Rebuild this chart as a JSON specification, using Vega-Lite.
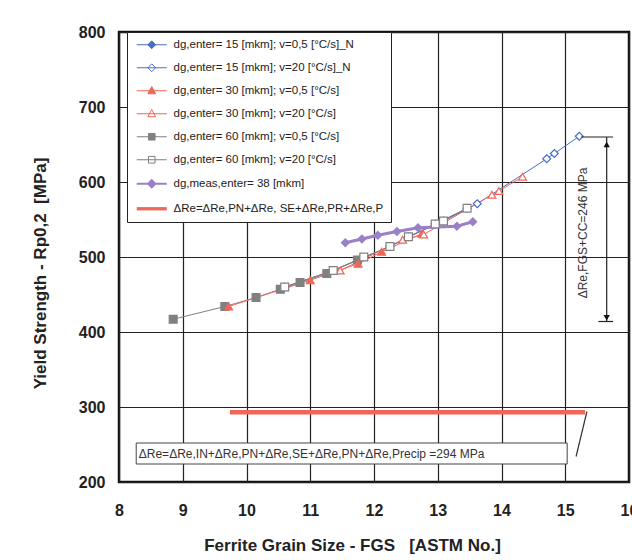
{
  "$schema": "https://vega.github.io/schema/vega-lite/v6.json",
  "width": 510,
  "height": 450,
  "autosize": {"type": "none"},
  "padding": {"left": 119, "top": 32, "right": 3, "bottom": 78},
  "background": "white",
  "config": {
    "font": "Liberation Sans",
    "view": {"stroke": "#111", "strokeWidth": 2.5},
    "axis": {
      "domain": false, "ticks": false, "grid": true, "gridColor": "#222", "gridWidth": 1.2, "gridOpacity": 1,
      "labelFlush": false,
      "labelFont": "Liberation Sans", "labelFontSize": 16, "labelFontWeight": "bold", "labelColor": "#222",
      "titleFont": "Liberation Sans", "titleFontSize": 17, "titleFontWeight": "bold", "titleColor": "#222"
    }
  },
  "datasets": {
    "pts": [
      {"series": "A", "fgs": 10.6, "ys": 460}, {"series": "A", "fgs": 11.36, "ys": 482}, {"series": "A", "fgs": 12.25, "ys": 514}, {"series": "A", "fgs": 12.96, "ys": 544}, {"series": "A", "fgs": 13.46, "ys": 565},
      {"series": "B", "fgs": 12.54, "ys": 527}, {"series": "B", "fgs": 13.09, "ys": 548}, {"series": "B", "fgs": 13.62, "ys": 571}, {"series": "B", "fgs": 14.71, "ys": 631}, {"series": "B", "fgs": 14.83, "ys": 638}, {"series": "B", "fgs": 15.22, "ys": 661},
      {"series": "E", "fgs": 8.85, "ys": 417}, {"series": "E", "fgs": 9.66, "ys": 434}, {"series": "E", "fgs": 10.15, "ys": 446}, {"series": "E", "fgs": 10.53, "ys": 457}, {"series": "E", "fgs": 10.84, "ys": 466}, {"series": "E", "fgs": 11.26, "ys": 478}, {"series": "E", "fgs": 11.74, "ys": 496},
      {"series": "C", "fgs": 9.72, "ys": 434}, {"series": "C", "fgs": 11.0, "ys": 469}, {"series": "C", "fgs": 11.75, "ys": 491}, {"series": "C", "fgs": 12.12, "ys": 507}, {"series": "C", "fgs": 12.75, "ys": 531},
      {"series": "D", "fgs": 11.47, "ys": 482}, {"series": "D", "fgs": 12.45, "ys": 523}, {"series": "D", "fgs": 12.78, "ys": 530}, {"series": "D", "fgs": 13.85, "ys": 583}, {"series": "D", "fgs": 13.96, "ys": 588}, {"series": "D", "fgs": 14.33, "ys": 607},
      {"series": "F", "fgs": 10.6, "ys": 460}, {"series": "F", "fgs": 11.36, "ys": 482}, {"series": "F", "fgs": 11.84, "ys": 500}, {"series": "F", "fgs": 12.25, "ys": 514}, {"series": "F", "fgs": 12.54, "ys": 527}, {"series": "F", "fgs": 12.96, "ys": 544}, {"series": "F", "fgs": 13.09, "ys": 548}, {"series": "F", "fgs": 13.46, "ys": 565},
      {"series": "G", "fgs": 11.55, "ys": 519}, {"series": "G", "fgs": 11.81, "ys": 524}, {"series": "G", "fgs": 12.06, "ys": 529}, {"series": "G", "fgs": 12.36, "ys": 534}, {"series": "G", "fgs": 12.69, "ys": 539}, {"series": "G", "fgs": 13.3, "ys": 541}, {"series": "G", "fgs": 13.55, "ys": 547},
      {"series": "H", "fgs": 9.74, "ys": 293}, {"series": "H", "fgs": 15.31, "ys": 293}
    ],
    "box": [{"fgs": 8.27, "fgs2": 15.03, "ys": 224, "ys2": 252, "label": "ΔRe=ΔRe,IN+ΔRe,PN+ΔRe,SE+ΔRe,PN+ΔRe,Precip =294 MPa", "tx": 8.31, "ty": 238}],
    "pointer": [{"fgs": 15.34, "ys": 294, "fgs2": 15.17, "ys2": 234}],
    "dim": [{"fgs": 15.65, "ys": 414, "ys2": 660}],
    "dimticks": [{"fgs": 15.25, "fgs2": 15.75, "ys": 660}, {"fgs": 15.52, "fgs2": 15.75, "ys": 414}],
    "heads": [{"fgs": 15.65, "ys": 650, "end": "top"}, {"fgs": 15.65, "ys": 419, "end": "bottom"}],
    "dimlabel": [{"fgs": 15.28, "ys": 532, "label": "ΔRe,FGS+CC=246 MPa"}]
  },
  "layer": [
    {
      "data": {"name": "pts"},
      "transform": [{"filter": "indexof(['A','B','C','D','E','F'], datum.series) >= 0"}],
      "mark": {"type": "line", "strokeWidth": 1},
      "encoding": {
        "x": {"field": "fgs", "type": "quantitative", "scale": {"domain": [8, 16], "nice": false, "zero": false},
              "axis": {"values": [8, 9, 10, 11, 12, 13, 14, 15, 16], "format": "d", "labelPadding": 20, "title": "Ferrite Grain Size - FGS\u00a0\u00a0\u00a0[ASTM No.]", "titleX": 233, "titleY": 63, "titleBaseline": "middle", "titleAnchor": "middle"}},
        "y": {"field": "ys", "type": "quantitative", "scale": {"domain": [200, 800], "nice": false, "zero": false},
              "axis": {"values": [200, 300, 400, 500, 600, 700, 800], "format": "d", "labelPadding": 14, "title": "Yield Strength - Rp0,2\u00a0\u00a0[MPa]", "titleX": -79, "titleY": 241, "titleBaseline": "middle", "titleAnchor": "middle", "titleAngle": 270}},
        "stroke": {
          "field": "series", "type": "nominal",
          "scale": {"domain": ["A", "B", "C", "D", "E", "F", "G", "H"], "range": ["#4a6cc7", "#4a6cc7", "#f2665a", "#f2665a", "#808080", "#808080", "#9b80c8", "#f2665a"]},
          "legend": {
            "orient": "none", "legendX": 8, "legendY": 0, "title": null, "direction": "vertical",
            "labelExpr": "['dg,enter= 15 [mkm]; v=0,5 [°C/s]_N','dg,enter= 15 [mkm]; v=20 [°C/s]_N','dg,enter= 30 [mkm]; v=0,5 [°C/s]','dg,enter= 30 [mkm]; v=20 [°C/s]','dg,enter= 60 [mkm]; v=0,5 [°C/s]','dg,enter= 60 [mkm]; v=20 [°C/s]','dg,meas,enter= 38 [mkm]','ΔRe=ΔRe,PN+ΔRe, SE+ΔRe,PR+ΔRe,P'][indexof(['A','B','C','D','E','F','G','H'], datum.value)]",
            "labelFont": "Liberation Sans", "labelFontSize": 11.5, "labelColor": "#222", "labelLimit": 400,
            "symbolSize": 36, "rowPadding": 10, "padding": 7,
            "strokeColor": "#222", "fillColor": "white",
            "symbolOffset": 12, "labelOffset": 16,
            "encode": {
              "symbols": {
                "update": {
                  "shape": {"signal": "['M-5,0L5,0M0,-1.3L1.3,0L0,1.3L-1.3,0Z','M-5,0L5,0M0,-1.3L1.3,0L0,1.3L-1.3,0Z','M-5,0L5,0M0,-1.4L1.3,1L-1.3,1Z','M-5,0L5,0M0,-1.4L1.3,1L-1.3,1Z','M-5,0L5,0M-1.1,-1.1L1.1,-1.1L1.1,1.1L-1.1,1.1Z','M-5,0L5,0M-1.1,-1.1L1.1,-1.1L1.1,1.1L-1.1,1.1Z','M-5,0L5,0M0,-1.2L1.2,0L0,1.2L-1.2,0Z','M-5,-0.55L5,-0.55L5,0.55L-5,0.55Z'][indexof(['A','B','C','D','E','F','G','H'], datum.value)]"},
                  "fill": {"signal": "['#4a6cc7','white','#f2665a','white','#808080','white','#9b80c8','#f2665a'][indexof(['A','B','C','D','E','F','G','H'], datum.value)]"},
                  "strokeWidth": {"signal": "datum.value === 'G' ? 2 : (datum.value === 'H' ? 0 : 1)"},
                  "opacity": {"value": 1},
                  "size": {"value": 36}
                }
              }
            }
          }
        }
      }
    },
    {
      "data": {"name": "pts"},
      "transform": [{"filter": "datum.series === 'G'"}],
      "mark": {"type": "line", "strokeWidth": 3},
      "encoding": {
        "x": {"field": "fgs", "type": "quantitative"},
        "y": {"field": "ys", "type": "quantitative"},
        "stroke": {"field": "series", "type": "nominal"}
      }
    },
    {
      "data": {"name": "pts"},
      "transform": [{"filter": "datum.series === 'H'"}],
      "mark": {"type": "line", "strokeWidth": 4.5},
      "encoding": {
        "x": {"field": "fgs", "type": "quantitative"},
        "y": {"field": "ys", "type": "quantitative"},
        "stroke": {"field": "series", "type": "nominal"}
      }
    },
    {
      "data": {"name": "pts"},
      "transform": [{"filter": "indexof(['A','B','C','D','E','F'], datum.series) >= 0"}],
      "mark": {"type": "point", "filled": true, "size": 62, "strokeWidth": 1.2, "opacity": 1},
      "encoding": {
        "x": {"field": "fgs", "type": "quantitative"},
        "y": {"field": "ys", "type": "quantitative"},
        "stroke": {"field": "series", "type": "nominal"},
        "fill": {"field": "series", "type": "nominal", "legend": null,
                 "scale": {"domain": ["A", "B", "C", "D", "E", "F", "G", "H"], "range": ["#4a6cc7", "white", "#f2665a", "white", "#808080", "white", "#9b80c8", "#f2665a"]}},
        "shape": {"field": "series", "type": "nominal", "legend": null,
                  "scale": {"domain": ["A", "B", "C", "D", "E", "F", "G", "H"], "range": ["diamond", "diamond", "triangle-up", "triangle-up", "square", "square", "diamond", "circle"]}}
      }
    },
    {
      "data": {"name": "pts"},
      "transform": [{"filter": "datum.series === 'G'"}],
      "mark": {"type": "point", "filled": true, "size": 90, "shape": "diamond", "opacity": 1},
      "encoding": {
        "x": {"field": "fgs", "type": "quantitative"},
        "y": {"field": "ys", "type": "quantitative"},
        "fill": {"field": "series", "type": "nominal", "legend": null}
      }
    },
    {
      "data": {"name": "box"},
      "mark": {"type": "rect", "fill": "white", "stroke": "#444", "strokeWidth": 1},
      "encoding": {
        "x": {"field": "fgs", "type": "quantitative"},
        "x2": {"field": "fgs2"},
        "y": {"field": "ys", "type": "quantitative"},
        "y2": {"field": "ys2"}
      }
    },
    {
      "data": {"name": "box"},
      "mark": {"type": "text", "align": "left", "baseline": "middle", "fontSize": 12, "color": "#333", "font": "Liberation Sans"},
      "encoding": {
        "x": {"field": "tx", "type": "quantitative"},
        "y": {"field": "ty", "type": "quantitative"},
        "text": {"field": "label"}
      }
    },
    {
      "data": {"name": "pointer"},
      "mark": {"type": "rule", "color": "#333", "strokeWidth": 1.2},
      "encoding": {
        "x": {"field": "fgs", "type": "quantitative"},
        "y": {"field": "ys", "type": "quantitative"},
        "x2": {"field": "fgs2"},
        "y2": {"field": "ys2"}
      }
    },
    {
      "data": {"name": "dim"},
      "mark": {"type": "rule", "color": "#222", "strokeWidth": 1.2},
      "encoding": {
        "x": {"field": "fgs", "type": "quantitative"},
        "y": {"field": "ys", "type": "quantitative"},
        "y2": {"field": "ys2"}
      }
    },
    {
      "data": {"name": "dimticks"},
      "mark": {"type": "rule", "color": "#222", "strokeWidth": 1.2},
      "encoding": {
        "x": {"field": "fgs", "type": "quantitative"},
        "x2": {"field": "fgs2"},
        "y": {"field": "ys", "type": "quantitative"}
      }
    },
    {
      "data": {"name": "heads"},
      "mark": {"type": "point", "filled": true, "size": 40, "color": "#111", "opacity": 1},
      "encoding": {
        "x": {"field": "fgs", "type": "quantitative"},
        "y": {"field": "ys", "type": "quantitative"},
        "shape": {"field": "end", "type": "nominal", "legend": null, "scale": {"domain": ["top", "bottom"], "range": ["triangle-up", "triangle-down"]}}
      }
    },
    {
      "data": {"name": "dimlabel"},
      "mark": {"type": "text", "angle": 270, "align": "center", "baseline": "middle", "fontSize": 12, "color": "#333", "font": "Liberation Sans"},
      "encoding": {
        "x": {"field": "fgs", "type": "quantitative"},
        "y": {"field": "ys", "type": "quantitative"},
        "text": {"field": "label"}
      }
    }
  ],
  "resolve": {"scale": {"shape": "independent"}}
}
